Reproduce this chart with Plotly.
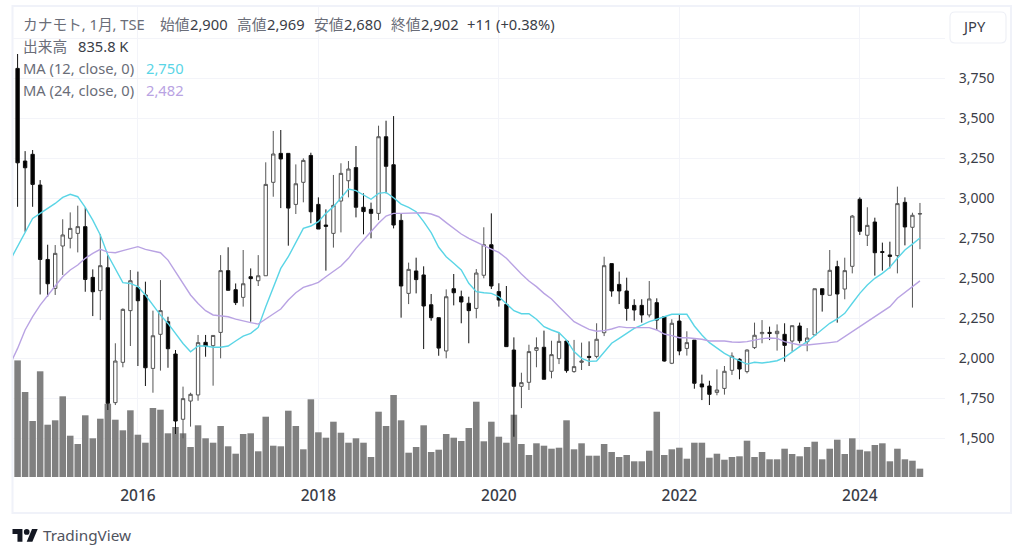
import plotly.graph_objects as go

# ---------- data (monthly candles, Sep 2014 .. Sep 2024) ----------
month_index = list(range(121))
opens = [3810,3231,3273,3081,2616,2435,2700,2748,2779,2821,2504,2421,2564,1721,1973,2296,2441,2394,1935,2148,
         2227,2025,1617,1731,1769,2098,2077,2160,2546,2427,2379,2508,2483,2514,3098,3279,3279,2960,3098,3266,
         2960,2831,2779,2981,3108,3190,2942,2929,2904,3383,3208,2860,2404,2544,2519,2333,2252,2044,2433,2383,
         2342,2310,2517,2708,2415,2335,2050,1823,1848,2048,2067,1917,1996,2106,1915,1973,2010,2010,2158,2590,
         2460,2419,2329,2329,2269,2346,2258,1967,2231,2060,2112,1838,1825,1785,1810,1923,1992,1915,2065,2152,
         2160,2152,2148,2106,2200,2102,2144,2433,2392,2571,2431,2573,2992,2767,2850,2665,2644,2640,2973,2817,2900]
highs = [3900,3293,3300,3112,2708,2706,2867,2910,2952,2941,2554,2775,2643,2092,2310,2550,2540,2477,2296,2487,
         2258,2050,1821,1783,2144,2144,2141,2643,2692,2466,2675,2560,2643,3223,3419,3425,3279,3210,3248,3283,
         3004,2929,3144,3217,3231,3325,3029,2971,3452,3483,3512,2904,2596,2627,2573,2400,2252,2429,2525,2421,
         2383,2556,2817,2904,2467,2450,2129,1908,2083,2129,2171,2108,2158,2113,2113,2096,2104,2217,2633,2590,
         2540,2502,2367,2367,2481,2373,2258,2242,2273,2167,2112,1896,1858,1929,1950,2035,1998,2054,2221,2237,
         2196,2210,2217,2202,2221,2187,2433,2433,2675,2608,2627,2894,3004,2942,2877,2721,2727,3071,3004,2908,2969]
lows = [2945,2789,2945,2397,2383,2394,2519,2685,2660,2414,2262,2237,1675,1706,1942,2075,1950,1825,1783,1921,
        1939,1525,1498,1571,1733,2008,1827,1998,2423,2331,2321,2227,2450,2514,3008,2937,2702,2900,2973,2842,
        2806,2546,2690,2785,3004,2879,2773,2748,2862,3029,2810,2252,2337,2404,2056,2233,2014,1998,2329,2217,
        2092,2248,2498,2431,2321,2071,1508,1687,1800,1942,1867,1873,1962,1908,1908,1925,1950,1998,2137,2383,
        2337,2233,2233,2221,2254,2175,1977,1962,2017,2015,1808,1737,1706,1767,1771,1894,1867,1904,2056,2092,
        2112,2046,1977,2040,2092,2042,2140,2290,2392,2221,2367,2529,2769,2700,2515,2546,2560,2529,2704,2315,2680]
closes = [3220,3189,3085,2616,2464,2654,2769,2810,2821,2491,2414,2577,1717,1981,2304,2483,2358,1939,2139,2296,
          2058,1606,1746,1773,2096,2075,2141,2546,2423,2346,2464,2496,2514,3085,3275,3244,2937,3089,3235,2914,
          2806,2823,2954,3154,3181,2942,2915,2904,3383,3198,2831,2450,2554,2490,2325,2252,2062,2383,2408,2350,
          2296,2531,2708,2450,2362,2071,1823,1846,2040,2065,1867,2021,2104,1921,1946,1981,2004,2117,2577,2419,
          2419,2310,2300,2269,2369,2237,1981,2217,2044,2096,1842,1819,1773,1800,1917,2012,1931,2050,2142,2160,
          2154,2167,2079,2202,2108,2125,2433,2396,2548,2400,2546,2887,2792,2829,2658,2660,2635,2965,2819,2892,2902]
volume_k = [11660,8500,5600,10570,5230,5670,8070,4130,3300,6170,3870,5830,7330,5730,4670,6670,4230,3430,6900,6730,
            4370,5000,4370,3000,5170,3870,3430,5100,3070,2330,4300,4370,2570,6030,3130,3070,6630,5100,2770,7770,
            4470,3930,5530,4430,3430,3870,3430,2000,6530,5100,8200,5670,2430,3000,5170,2500,2730,4300,3930,3600,
            4900,7530,3570,5530,4030,3430,6230,3300,2200,3370,3130,2830,2930,5670,2770,3370,2130,2130,3300,2500,
            2000,2200,1570,1570,2630,6530,2200,2770,2930,1830,3430,3430,1930,2330,1730,2000,2070,3630,2000,2500,
            1770,1770,2830,2300,2070,3000,3530,1770,2830,3730,2300,3870,2730,2570,3200,3370,1570,2830,1770,1630,836]
# the moving averages start one month left of the first visible candle
ma_index = list(range(-1, 121))
ma12 = [2610,2695,2785,2872,2904,2935,2966,3004,3023,3008,2941,2862,2769,2644,2560,2471,2466,2446,2394,2331,
        2268,2216,2154,2091,2039,2075,2075,2067,2067,2075,2106,2137,2154,2191,2321,2446,2560,2633,2720,2810,
        2825,2852,2904,2946,3000,3056,3046,3019,2992,3029,3035,3002,2962,2941,2914,2852,2783,2692,2633,2592,
        2550,2467,2415,2408,2404,2383,2337,2296,2277,2277,2242,2196,2175,2158,2112,2040,1998,1979,1981,2040,
        2092,2123,2154,2185,2206,2227,2242,2258,2273,2273,2273,2200,2144,2096,2060,2029,2004,1983,1962,1973,
        1969,1975,1983,2004,2040,2071,2102,2140,2175,2217,2244,2279,2342,2404,2456,2498,2529,2567,2623,2675,2712,2750]
ma24 = [1960,2060,2175,2258,2331,2394,2450,2508,2550,2581,2623,2654,2679,2662,2658,2671,2685,2696,2679,2669,
        2658,2612,2539,2466,2394,2341,2296,2269,2262,2258,2243,2231,2221,2212,2241,2275,2306,2362,2408,2441,
        2456,2473,2508,2539,2575,2623,2685,2737,2790,2842,2887,2904,2904,2906,2910,2908,2900,2883,2846,2810,
        2775,2748,2723,2702,2681,2660,2623,2571,2525,2481,2446,2404,2369,2321,2273,2227,2202,2179,2167,2171,
        2181,2196,2190,2190,2192,2190,2175,2150,2140,2127,2127,2123,2117,2106,2106,2106,2100,2098,2102,2112,
        2121,2125,2123,2102,2092,2081,2081,2085,2092,2096,2102,2133,2165,2196,2227,2258,2290,2321,2373,2410,2446,2482]
year_ticks = [16, 40, 64, 88, 112]
year_labels = ["2016", "2018", "2020", "2022", "2024"]
price_ticks = [1500, 1750, 2000, 2250, 2500, 2750, 3000, 3250, 3500, 3750, 4000]
price_labels = ["1,500", "1,750", "2,000", "2,250", "2,500", "2,750", "3,000", "3,250", "3,500", "3,750", ""]

# ---------- layout constants ----------
W, H = 1024, 557
L, R, T, B = 13, 945, 7, 477
GRID = "#f3f4f9"
TEXT = "#3a3d47"
MUTED = "#6a6d78"
FONT = "'Noto Sans', 'Noto Sans CJK JP', sans-serif"
CYAN = "#5ad5e6"
PURPLE = "#b9a3e3"


def px(x):
    return (x - L) / (R - L)


def py(y):
    return (B - y) / (B - T)


fig = go.Figure()
fig.add_trace(go.Bar(x=month_index, y=volume_k, yaxis="y", marker=dict(color="#808080", line_width=0),
                     hoverinfo="skip", showlegend=False))
fig.add_trace(go.Candlestick(x=month_index, open=opens, high=highs, low=lows, close=closes, yaxis="y2",
                             whiskerwidth=0,
                             increasing=dict(fillcolor="#ffffff", line=dict(color="#555555", width=1)),
                             decreasing=dict(fillcolor="#000000", line=dict(color="#111111", width=1)),
                             showlegend=False))
fig.add_trace(go.Scatter(x=ma_index, y=ma12, mode="lines", yaxis="y2", line=dict(color=CYAN, width=1.4),
                         hoverinfo="skip", showlegend=False))
fig.add_trace(go.Scatter(x=ma_index, y=ma24, mode="lines", yaxis="y2", line=dict(color=PURPLE, width=1.4),
                         hoverinfo="skip", showlegend=False))


def note(x, y, text, color=TEXT, size=14.7):
    return dict(xref="paper", yref="paper", x=px(x), y=py(y), text=text, showarrow=False,
                xanchor="left", yanchor="middle", borderpad=0, borderwidth=0,
                font=dict(family=FONT, size=size, color=color))


annotations = [
    note(23, 24, "カナモト, 1月, TSE", MUTED),
    note(160, 24, "始値", MUTED), note(190, 24, "2,900"),
    note(237, 24, "高値", MUTED), note(267, 24, "2,969"),
    note(314, 24, "安値", MUTED), note(344, 24, "2,680"),
    note(391, 24, "終値", MUTED), note(421, 24, "2,902"),
    note(467, 24, "+11 (+0.38%)"),
    note(23, 46, "出来高", MUTED), note(78, 46, "835.8 K"),
    note(23, 68, "MA (12, close, 0)", MUTED), note(146, 68, "2,750", CYAN),
    note(23, 90, "MA (24, close, 0)", MUTED), note(146, 90, "2,482", PURPLE),
    note(962, 26, "JPY", TEXT),
    note(43, 535, "TradingView", "#50535e", 15.3),
]


def rounded_box(x0, y0, x1, y1, r):
    return (f"M {px(x0 + r)} {py(y0)} L {px(x1 - r)} {py(y0)} Q {px(x1)} {py(y0)} {px(x1)} {py(y0 + r)} "
            f"L {px(x1)} {py(y1 - r)} Q {px(x1)} {py(y1)} {px(x1 - r)} {py(y1)} "
            f"L {px(x0 + r)} {py(y1)} Q {px(x0)} {py(y1)} {px(x0)} {py(y1 - r)} "
            f"L {px(x0)} {py(y0 + r)} Q {px(x0)} {py(y0)} {px(x0 + r)} {py(y0)} Z")


def logo_pts(points, ox=12.5, oy=526.2, s=0.71):
    d = ""
    for n, (a, b) in enumerate(points):
        d += ("M " if n == 0 else "L ") + f"{px(ox + a * s)} {py(oy + b * s)} "
    return d + "Z"


logo_t = [(14, 22), (7, 22), (7, 11), (0, 11), (0, 4), (14, 4)]
logo_v = [(28, 22), (20, 22), (27.5, 4), (35.5, 4)]

shapes = [
    dict(type="rect", xref="paper", yref="paper", x0=px(12.5), x1=px(1011), y0=py(6), y1=py(513),
         line=dict(color="#f0f2f9", width=2), layer="below"),
    dict(type="path", xref="paper", yref="paper", path=rounded_box(950, 12, 1006, 43, 5),
         line=dict(color="#eef0f6", width=1.2), fillcolor="#ffffff"),
    dict(type="path", xref="paper", yref="paper", path=logo_pts(logo_t), fillcolor="#131722", line_width=0),
    dict(type="path", xref="paper", yref="paper", path=logo_pts(logo_v), fillcolor="#131722", line_width=0),
    dict(type="circle", xref="paper", yref="paper", x0=px(12.5 + 16 * 0.71), x1=px(12.5 + 24 * 0.71),
         y0=py(526.2 + 4 * 0.71), y1=py(526.2 + 12 * 0.71), fillcolor="#131722", line_width=0),
]

fig.update_layout(
    width=W, height=H, autosize=False,
    margin=dict(l=L, r=W - R, t=T, b=H - B, pad=0),
    paper_bgcolor="#ffffff", plot_bgcolor="#ffffff",
    showlegend=False, bargap=0.13, boxgap=0.36,
    font=dict(family=FONT, color=TEXT, size=14),
    annotations=annotations, shapes=shapes,
    xaxis=dict(range=[-0.61, 123.33], tickmode="array", tickvals=year_ticks, ticktext=year_labels,
               rangeslider=dict(visible=False), showgrid=True, gridcolor=GRID, gridwidth=1, zeroline=False,
               showline=False, ticks="outside", ticklen=4, tickcolor="rgba(0,0,0,0)",
               tickfont=dict(family=FONT, size=15.5, color=TEXT, weight=500)),
    yaxis=dict(range=[0, 47000], visible=False, fixedrange=True),
    yaxis2=dict(range=[1256.25, 4193.75], overlaying="y", side="right", tickmode="array",
                tickvals=price_ticks, ticktext=price_labels, showgrid=True, gridcolor=GRID, gridwidth=1,
                zeroline=False, showline=False, ticks="outside", ticklen=10, tickcolor="rgba(0,0,0,0)",
                tickfont=dict(family=FONT, size=14, color=TEXT)),
)

# the page's default body margin would push the fixed-size figure 8px right and down
fig.write_html("out.html", config=dict(displayModeBar=False),
               post_script="document.body.style.margin='0';")
